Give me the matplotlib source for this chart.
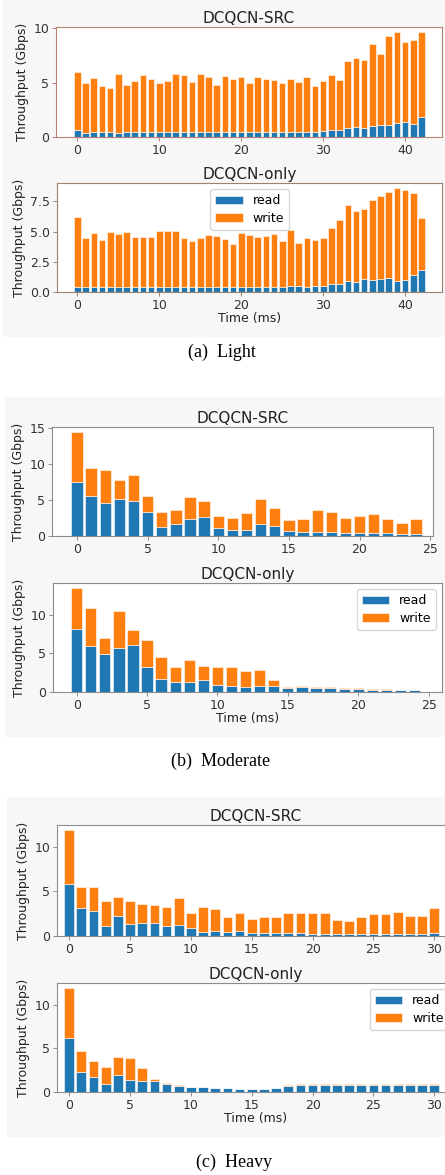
import numpy as np
import matplotlib
matplotlib.use('Agg')
import matplotlib.pyplot as plt
from matplotlib.patches import Rectangle
from matplotlib.ticker import MultipleLocator, FormatStrFormatter

# (a) Light
light_src_total = [6.0, 4.98, 5.45, 4.65, 4.55, 5.8, 4.8, 5.14, 5.7, 5.3, 5.0, 5.12, 5.8, 5.7, 5.06,
                   5.8, 5.55, 4.77, 5.6, 5.36, 5.55, 4.98, 5.48, 5.3, 5.25, 4.92, 5.3, 5.08, 5.55, 4.72,
                   5.12, 5.7, 5.23, 7.0, 7.25, 7.09, 8.57, 7.66, 9.32, 9.62, 8.72, 8.9, 9.63]
light_src_read = [0.6, 0.35, 0.42, 0.42, 0.42, 0.38, 0.42, 0.45, 0.42, 0.45, 0.45, 0.45, 0.42, 0.45, 0.5,
                  0.45, 0.45, 0.42, 0.42, 0.42, 0.45, 0.42, 0.45, 0.45, 0.5, 0.45, 0.5, 0.45, 0.45, 0.5,
                  0.52, 0.6, 0.68, 0.84, 0.9, 0.82, 1.0, 1.12, 1.12, 1.28, 1.38, 1.22, 1.85]
light_only_total = [6.17, 4.46, 4.88, 4.32, 4.98, 4.79, 4.97, 4.55, 4.57, 4.57, 5.07, 5.03, 5.07, 4.44,
                    4.24, 4.44, 4.73, 4.62, 4.38, 3.96, 4.92, 4.75, 4.53, 4.6, 4.77, 4.18, 5.15, 4.05,
                    4.46, 4.32, 4.46, 5.29, 5.98, 7.16, 6.72, 6.83, 7.63, 7.93, 8.31, 8.59, 8.4, 8.18, 6.11]
light_only_read = [0.42, 0.45, 0.42, 0.42, 0.4, 0.4, 0.4, 0.4, 0.42, 0.4, 0.42, 0.42, 0.42, 0.42, 0.42,
                   0.42, 0.45, 0.42, 0.45, 0.42, 0.45, 0.45, 0.45, 0.42, 0.42, 0.42, 0.52, 0.52, 0.45,
                   0.5, 0.52, 0.66, 0.66, 0.93, 0.83, 1.07, 0.96, 1.04, 1.15, 0.93, 1.02, 1.43, 1.79]

# (b) Moderate
mod_src_total = [14.4, 9.37, 9.14, 7.75, 8.45, 5.54, 3.28, 3.6, 5.45, 4.85, 2.72, 2.45, 3.23, 5.12,
                 3.83, 2.2, 2.3, 3.6, 3.28, 2.5, 2.8, 3.0, 2.4, 1.85, 2.4]
mod_src_read = [7.43, 5.54, 4.57, 5.08, 4.89, 3.28, 1.29, 1.71, 2.35, 2.58, 1.15, 0.83, 0.83, 1.62,
                1.43, 0.74, 0.6, 0.6, 0.5, 0.46, 0.46, 0.42, 0.37, 0.28, 0.28]
mod_only_total = [13.4, 10.85, 7.0, 10.4, 7.95, 6.67, 4.53, 3.29, 4.19, 3.38, 3.2, 3.29, 2.69, 2.86,
                  1.5, 0.64, 0.77, 0.68, 0.64, 0.5, 0.47, 0.34, 0.34, 0.26, 0.26]
mod_only_read = [8.08, 5.94, 4.91, 5.68, 6.11, 3.29, 1.67, 1.32, 1.32, 1.58, 0.94, 0.77, 0.68, 0.77,
                 0.81, 0.5, 0.6, 0.55, 0.47, 0.38, 0.38, 0.3, 0.3, 0.24, 0.24]

# (c) Heavy
heavy_src_total = [11.85, 5.47, 5.47, 3.92, 4.34, 3.92, 3.55, 3.47, 3.2, 4.26, 2.53, 3.25, 2.98, 2.15,
                   2.57, 1.96, 2.15, 2.08, 2.57, 2.57, 2.57, 2.53, 1.81, 1.66, 2.11, 2.45, 2.49, 2.64,
                   2.26, 2.26, 3.09]
heavy_src_read = [5.85, 3.17, 2.83, 1.09, 2.19, 1.36, 1.43, 1.43, 1.09, 1.25, 0.87, 0.45, 0.53, 0.45,
                  0.53, 0.3, 0.3, 0.3, 0.38, 0.3, 0.23, 0.23, 0.23, 0.23, 0.23, 0.23, 0.23, 0.23,
                  0.23, 0.23, 0.3]
heavy_only_total = [11.93, 4.7, 3.6, 2.88, 4.0, 3.86, 2.8, 1.44, 1.06, 0.76, 0.6, 0.53, 0.45, 0.45,
                    0.38, 0.38, 0.3, 0.49, 0.76, 0.87, 0.87, 0.87, 0.87, 0.87, 0.87, 0.9, 0.87, 0.87,
                    0.87, 0.9, 0.87]
heavy_only_read = [6.17, 2.27, 1.74, 0.95, 1.93, 1.36, 1.25, 1.21, 0.9, 0.72, 0.57, 0.53, 0.45, 0.45,
                   0.38, 0.34, 0.3, 0.45, 0.68, 0.83, 0.83, 0.83, 0.83, 0.83, 0.83, 0.83, 0.83, 0.83,
                   0.83, 0.83, 0.83]

W, H = 445, 1175
fig = plt.figure(figsize=(W / 100, H / 100), dpi=100)


def px_axes(x0, y0, x1, y1):
    return fig.add_axes([x0 / W, 1 - y1 / H, (x1 - x0) / W, (y1 - y0) / H])


# grey panel backgrounds
for (x0, y0, x1, y1) in [(3, 0, 445, 337), (5, 397, 445, 737), (7, 797, 445, 1137)]:
    fig.patches.append(Rectangle((x0 / W, 1 - y1 / H), (x1 - x0) / W, (y1 - y0) / H,
                                 transform=fig.transFigure, facecolor='#f7f7f7',
                                 edgecolor='none', zorder=-10))


def draw(ax, total, read, title, xlim, xstep, ystep, spine, legend=None, xlabel=False):
    read = np.array(read)
    write = np.array(total) - read
    x = np.arange(len(read))
    ax.bar(x, read, color='#1f77b4', edgecolor='white', linewidth=0.4, label='read')
    ax.bar(x, write, bottom=read, color='#ff7f0e', edgecolor='white', linewidth=0.4, label='write')
    ax.set_xlim(*xlim)
    ax.xaxis.set_major_locator(MultipleLocator(xstep))
    ax.yaxis.set_major_locator(MultipleLocator(ystep))
    ax.set_title(title, fontsize=11, pad=3, color='#222222')
    ax.set_ylabel('Throughput (Gbps)', fontsize=9, color='#222222', labelpad=3)
    if xlabel:
        ax.set_xlabel('Time (ms)', fontsize=9, color='#222222', labelpad=0)
    for s in ax.spines.values():
        s.set_color(spine)
        s.set_linewidth(0.8)
    ax.tick_params(labelsize=9, colors='#333333', length=3, width=0.7, pad=2)
    ax.tick_params(color=spine)
    if legend:
        ax.legend(loc=legend, fontsize=9, handlelength=2.2, borderpad=0.4, labelspacing=0.35)


ax = px_axes(56, 27, 442, 137)
draw(ax, light_src_total, light_src_read, 'DCQCN-SRC', (-2.6, 44.5), 10, 5, '#b8826e')
ax = px_axes(57, 183, 442, 292)
draw(ax, light_only_total, light_only_read, 'DCQCN-only', (-2.5, 44.5), 10, 2.5, '#a08070',
     legend='upper center', xlabel=True)
ax.yaxis.set_major_formatter(FormatStrFormatter('%.1f'))

ax = px_axes(52, 427, 433, 536)
draw(ax, mod_src_total, mod_src_read, 'DCQCN-SRC', (-1.77, 25.2), 5, 5, '#8c8c8c')
ax = px_axes(53, 583, 442, 692)
draw(ax, mod_only_total, mod_only_read, 'DCQCN-only', (-1.68, 25.95), 5, 5, '#8c8c8c',
     legend='upper right', xlabel=True)

ax = px_axes(57, 825, 455, 936)
draw(ax, heavy_src_total, heavy_src_read, 'DCQCN-SRC', (-1.0, 31.7), 5, 5, '#8c8c8c')
ax = px_axes(57, 983, 455, 1092)
draw(ax, heavy_only_total, heavy_only_read, 'DCQCN-only', (-1.0, 31.7), 5, 5, '#8c8c8c',
     legend='upper right', xlabel=True)

serif = ['Liberation Serif', 'DejaVu Serif']
fig.text(222 / W, 1 - 352 / H, '(a)  Light', ha='center', va='center', fontsize=13, family=serif)
fig.text(221 / W, 1 - 761 / H, '(b)  Moderate', ha='center', va='center', fontsize=13, family=serif)
fig.text(234 / W, 1 - 1162 / H, '(c)  Heavy', ha='center', va='center', fontsize=13, family=serif)

fig.savefig('out.png', dpi=100)
